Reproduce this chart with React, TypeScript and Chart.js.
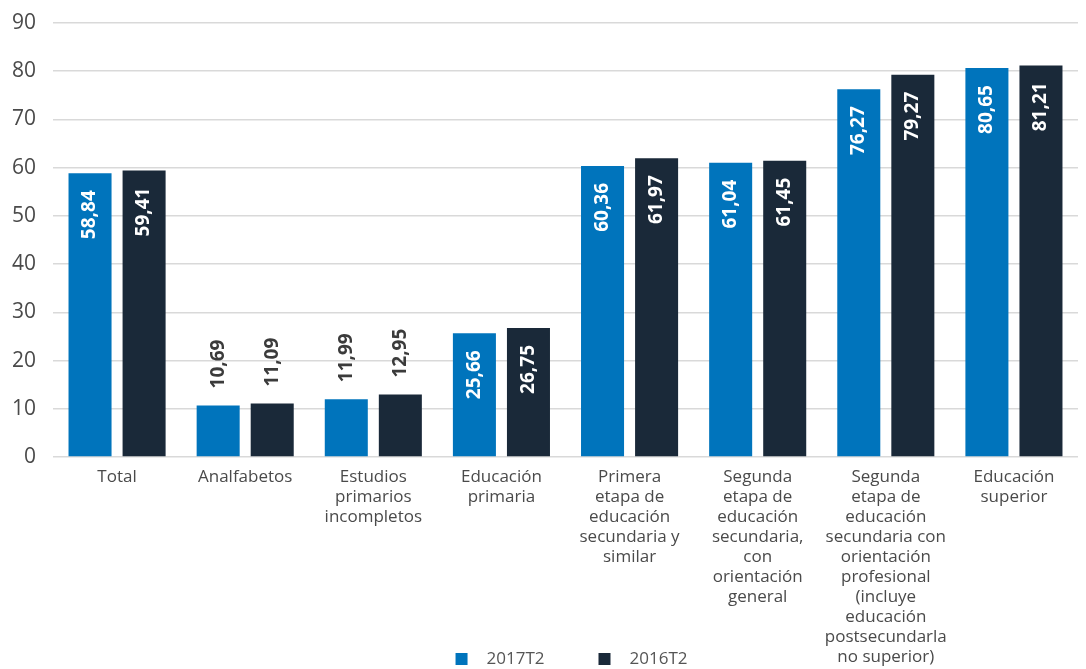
import React, { useEffect, useRef } from "react";
import { Chart, registerables } from "chart.js";

Chart.register(...registerables);

const categories: string[][] = [
  ["Total"],
  ["Analfabetos"],
  ["Estudios", "primarios", "incompletos"],
  ["Educación", "primaria"],
  ["Primera", "etapa de", "educación", "secundaria y", "similar"],
  ["Segunda", "etapa de", "educación", "secundaria,", "con", "orientación", "general"],
  ["Segunda", "etapa de", "educación", "secundaria con", "orientación", "profesional", "(incluye", "educación", "postsecundarla", "no superior)"],
  ["Educación", "superior"],
];

const series2017: number[] = [58.84, 10.69, 11.99, 25.66, 60.36, 61.04, 76.27, 80.65];
const series2016: number[] = [59.41, 11.09, 12.95, 26.75, 61.97, 61.45, 79.27, 81.21];

const seriesNames: string[] = ["2017T2", "2016T2"];
const seriesColors: string[] = ["#0074BC", "#1A2939"];

const yTicks: number[] = [0, 10, 20, 30, 40, 50, 60, 70, 80, 90];

const FONT = "'Open Sans', 'Noto Sans', sans-serif";

const fmt = (v: number) => v.toFixed(2).replace(".", ",");

const valueLabelPlugin = {
  id: "valueLabels",
  afterDatasetsDraw(chart: any) {
    const ctx = chart.ctx;
    ctx.save();
    ctx.font = `bold 19px ${FONT}`;
    chart.data.datasets.forEach((ds: any, di: number) => {
      const meta = chart.getDatasetMeta(di);
      meta.data.forEach((bar: any, i: number) => {
        const v = ds.data[i];
        const text = fmt(v);
        const w = ctx.measureText(text).width;
        const h = bar.base - bar.y;
        ctx.save();
        ctx.translate(bar.x, bar.y);
        ctx.rotate(-Math.PI / 2);
        ctx.textBaseline = "middle";
        if (h > w + 30) {
          ctx.fillStyle = "#ffffff";
          ctx.textAlign = "right";
          ctx.fillText(text, -17, 0);
        } else {
          ctx.fillStyle = "#3b3b3b";
          ctx.textAlign = "left";
          ctx.fillText(text, 17, 0);
        }
        ctx.restore();
      });
    });
    ctx.restore();
  },
};

const legendPlugin = {
  id: "customLegend",
  afterDraw(chart: any) {
    const ctx = chart.ctx;
    ctx.save();
    ctx.font = `17px ${FONT}`;
    const box = 12;
    const gapText = 19;
    const gapItems = 54;
    const widths = chart.data.datasets.map((d: any) => ctx.measureText(d.label).width);
    let total = 0;
    widths.forEach((w: number, i: number) => {
      total += box + gapText + w + (i < widths.length - 1 ? gapItems : 0);
    });
    const cx = (chart.chartArea.left + chart.chartArea.right) / 2 + 6;
    let x = cx - total / 2;
    const y = 659;
    chart.data.datasets.forEach((d: any, i: number) => {
      ctx.fillStyle = d.backgroundColor;
      ctx.fillRect(x, y - box / 2, box, box);
      x += box + gapText;
      ctx.fillStyle = "#555555";
      ctx.textAlign = "left";
      ctx.textBaseline = "middle";
      ctx.fillText(d.label, x, y);
      x += widths[i] + gapItems;
    });
    ctx.restore();
  },
};

export default function App() {
  const canvasRef = useRef<HTMLCanvasElement | null>(null);

  useEffect(() => {
    document.body.style.margin = "0";
    document.body.style.overflow = "hidden";
    if (!canvasRef.current) return;
    const chart = new Chart(canvasRef.current, {
      type: "bar",
      data: {
        labels: categories,
        datasets: [
          {
            label: seriesNames[0],
            data: series2017,
            backgroundColor: seriesColors[0],
            categoryPercentage: 0.84375,
            barPercentage: 0.796,
          },
          {
            label: seriesNames[1],
            data: series2016,
            backgroundColor: seriesColors[1],
            categoryPercentage: 0.84375,
            barPercentage: 0.796,
          },
        ],
      },
      options: {
        animation: false,
        responsive: true,
        maintainAspectRatio: false,
        layout: { padding: { top: 23, right: 8, left: 0, bottom: 0 } },
        plugins: {
          legend: { display: false },
          tooltip: { enabled: false },
        },
        scales: {
          x: {
            afterFit: (scale: any) => {
              scale.height = 212;
            },
            grid: { display: false },
            border: { display: false },
            ticks: {
              color: "#4a4a4a",
              padding: 2,
              maxRotation: 0,
              autoSkip: false,
              font: { family: FONT, size: 17, lineHeight: 1.18 },
            },
          },
          y: {
            min: 0,
            max: 90,
            afterBuildTicks: (scale: any) => {
              scale.ticks = yTicks.map((v) => ({ value: v }));
            },
            afterFit: (scale: any) => {
              scale.width = 53;
              scale.paddingTop = 0;
              scale.paddingBottom = 0;
            },
            grid: { color: "#d9d9d9", lineWidth: 1.5, drawTicks: false },
            border: { display: false },
            ticks: {
              color: "#4a4a4a",
              padding: 17,
              font: { family: FONT, size: 21 },
            },
          },
        },
      },
      plugins: [valueLabelPlugin, legendPlugin],
    });
    return () => chart.destroy();
  }, []);

  return (
    <div style={{ width: 1086, height: 669, position: "relative" }}>
      <canvas ref={canvasRef} />
    </div>
  );
}
